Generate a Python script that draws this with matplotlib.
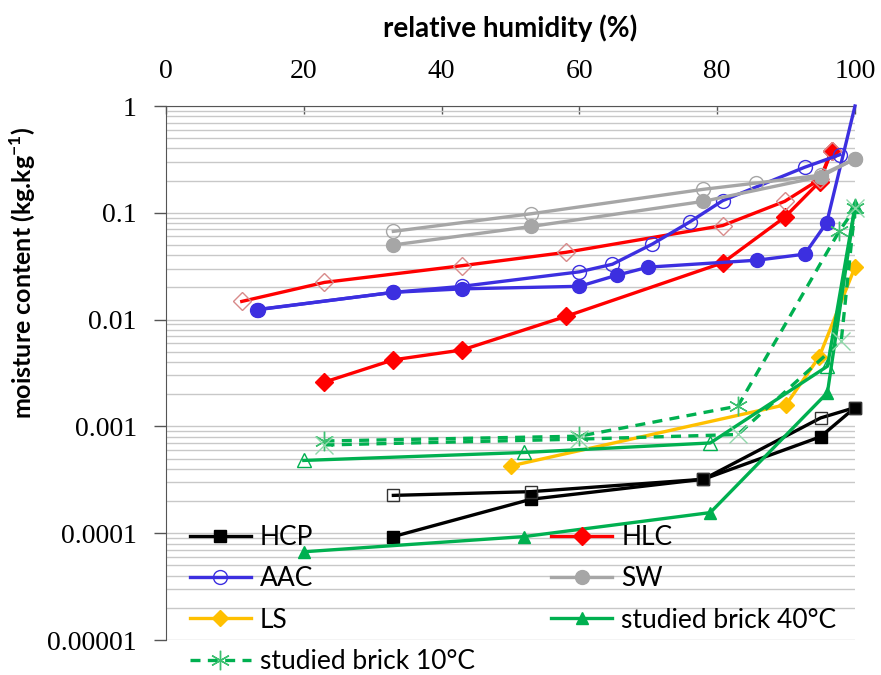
import matplotlib
matplotlib.use("Agg")
import matplotlib.pyplot as plt
from matplotlib.ticker import FixedLocator, FixedFormatter, LogLocator, NullFormatter

# relative humidity (%) and moisture content (kg/kg)
# "a" = filled markers, "d" = hollow markers
hcp_a_rh = [33, 53, 78, 95, 100]
hcp_a_mc = [9.3e-5, 2.08e-4, 3.2e-4, 8.0e-4, 1.5e-3]
hcp_d_rh = [33, 53, 78, 95, 100]
hcp_d_mc = [2.26e-4, 2.45e-4, 3.2e-4, 1.2e-3, 1.5e-3]

hlc_a_rh = [23, 33, 43, 58, 80.8, 89.8, 94.9, 96.6]
hlc_a_mc = [0.0026, 0.0042, 0.0052, 0.0107, 0.034, 0.091, 0.196, 0.38]
hlc_d_rh = [11, 23, 43, 58, 80.8, 89.8, 94.9, 96.6]
hlc_d_mc = [0.0148, 0.0223, 0.032, 0.0426, 0.076, 0.128, 0.206, 0.38]

aac_a_rh = [13.4, 33, 43, 60, 65.4, 70, 85.8, 92.7, 95.9, 100]
aac_a_mc = [0.0124, 0.018, 0.0194, 0.0205, 0.026, 0.031, 0.036, 0.041, 0.081, 1.0]
aac_d_rh = [13.2, 33, 43, 60, 64.8, 70.6, 76, 80.8, 92.7, 97.8]
aac_d_mc = [0.0124, 0.018, 0.0205, 0.028, 0.033, 0.051, 0.082, 0.13, 0.267, 0.35]

sw_a_rh = [33, 53, 78, 95, 100]
sw_a_mc = [0.05, 0.0745, 0.128, 0.218, 0.32]
sw_d_rh = [33, 53, 78, 85.7, 95, 100]
sw_d_mc = [0.067, 0.098, 0.166, 0.19, 0.225, 0.32]

ls_rh = [50, 90, 94.8, 100]
ls_mc = [4.26e-4, 1.6e-3, 4.47e-3, 0.031]

b40_a_rh = [20, 52, 79, 96, 100]
b40_a_mc = [6.7e-5, 9.3e-5, 1.56e-4, 2.07e-3, 0.115]
b40_d_rh = [20, 52, 79, 96, 100]
b40_d_mc = [4.8e-4, 5.7e-4, 7.0e-4, 3.66e-3, 0.115]

b10_a_rh = [23, 60, 83, 97.7, 100]
b10_a_mc = [7.3e-4, 8.1e-4, 1.55e-3, 0.067, 0.11]
b10_d_rh = [23, 60, 83, 98, 100]
b10_d_mc = [6.7e-4, 7.6e-4, 8.4e-4, 6.3e-3, 0.11]

x_ticks = [0, 20, 40, 60, 80, 100]
y_ticks = [1e-5, 1e-4, 1e-3, 1e-2, 1e-1, 1]
y_labels = ["0.00001", "0.0001", "0.001", "0.01", "0.1", "1"]

sans = ["Lato", "DejaVu Sans"]
serif = ["Liberation Serif", "DejaVu Serif"]
plt.rcParams["mathtext.fontset"] = "custom"
plt.rcParams["mathtext.rm"] = "Lato:bold"
plt.rcParams["mathtext.bf"] = "Lato:bold"

fig = plt.figure(figsize=(8.81, 6.75), dpi=100)
ax = fig.add_axes([166/881, 1-640/675, (855-166)/881, (640-106)/675])

lw = 2.4
ms = 9
kw = dict(lw=lw, clip_on=False, zorder=3)

h_hcp, = ax.plot(hcp_a_rh, hcp_a_mc, color="black", marker="s", ms=ms, **kw)
ax.plot(hcp_d_rh, hcp_d_mc, color="black", marker="s", ms=ms, mfc="none", mec="#333333", mew=1, **kw)

h_hlc, = ax.plot(hlc_a_rh, hlc_a_mc, color="red", marker="D", ms=ms, **kw)
ax.plot(hlc_d_rh, hlc_d_mc, color="red", marker="D", ms=ms, mfc="none", mec="#d88a8a", mew=1, **kw)

ax.plot(aac_a_rh, aac_a_mc, color="#3c2fe0", marker="o", ms=ms+1, markevery=list(range(len(aac_a_rh)-1)), **kw)
h_aac, = ax.plot(aac_d_rh, aac_d_mc, color="#3c2fe0", marker="o", ms=ms+1, mfc="none", mew=1, **kw)

h_sw, = ax.plot(sw_a_rh, sw_a_mc, color="#a6a6a6", marker="o", ms=ms+1, **kw)
ax.plot(sw_d_rh, sw_d_mc, color="#a6a6a6", marker="o", ms=ms+1, mfc="none", mew=1, **kw)

h_ls, = ax.plot(ls_rh, ls_mc, color="#ffc000", marker="D", ms=ms-1, **kw)

h_b40, = ax.plot(b40_a_rh, b40_a_mc, color="#00b050", marker="^", ms=ms, **kw)
ax.plot(b40_d_rh, b40_d_mc, color="#00b050", marker="^", ms=ms+1, mfc="none", mew=1, **kw)

star = (6, 2, 0)
h_b10, = ax.plot(b10_a_rh, b10_a_mc, color="#00b050", ls=(0, (3, 2.2)), marker=star, ms=ms+5,
                 mec="#3cc070", mew=1, **kw)
ax.plot(b10_d_rh, b10_d_mc, color="#00b050", ls=(0, (3, 2.2)), marker="x", ms=ms+4,
        mec="#8fd8aa", mew=1, **kw)

ax.set_yscale("log")
ax.set_xlim(0, 100)
ax.set_ylim(1e-5, 1)

ax.xaxis.tick_top()
ax.xaxis.set_label_position("top")
ax.set_xticks(x_ticks)
ax.set_xticklabels([str(v) for v in x_ticks], family=serif, fontsize=20)
ax.tick_params(axis="x", direction="in", length=6, width=1, pad=16, color="#555555")

ax.yaxis.set_major_locator(FixedLocator(y_ticks))
ax.yaxis.set_major_formatter(FixedFormatter(y_labels))
ax.yaxis.set_minor_locator(LogLocator(base=10, subs=range(2, 10), numticks=20))
ax.yaxis.set_minor_formatter(NullFormatter())
for t in ax.get_yticklabels():
    t.set_family(serif)
    t.set_fontsize(20)
ax.tick_params(axis="y", which="major", direction="out", length=9, width=1, pad=12, color="#555555")
ax.tick_params(axis="y", which="minor", length=0)

ax.grid(True, axis="y", which="both", color="#c8c8c8", lw=1)
ax.set_axisbelow(True)
for s in ["right", "bottom"]:
    ax.spines[s].set_visible(False)
ax.spines["top"].set_color("#555555")
ax.spines["left"].set_color("#555555")

ax.set_xlabel("relative humidity (%)", family=sans, fontweight="bold", fontsize=20, labelpad=16)
ax.set_ylabel(r"moisture content (kg.kg$^{\mathbf{-1}}$)", family=sans, fontweight="bold",
              fontsize=18)
ax.yaxis.set_label_coords(-0.186, 0.687)

leg = fig.legend([h_hcp, h_aac, h_ls, h_b10, h_hlc, h_sw, h_b40],
                 ["HCP", "AAC", "LS", "studied brick 10°C", "HLC", "SW", "studied brick 40°C"],
                 ncol=2, loc="upper left", bbox_to_anchor=(190/881, 1-525/675), frameon=False,
                 prop={"family": sans, "size": 19}, handlelength=2.3, handletextpad=0.35,
                 columnspacing=2.9, labelspacing=0.62, borderaxespad=0, borderpad=0)

fig.savefig("out.png", dpi=100)
